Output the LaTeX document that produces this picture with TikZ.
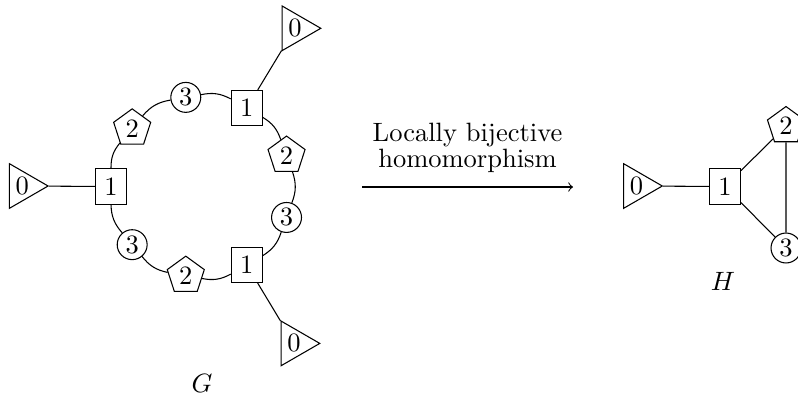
\documentclass[tikz,border=0pt]{standalone}
\usetikzlibrary{shapes.geometric}
\begin{document}
\begin{tikzpicture}[x=0.3774pt,y=0.3774pt,
  sq/.style={draw, rectangle},
  ci/.style={draw, circle, minimum size=11.3pt, inner sep=0pt},
  pe/.style={draw, regular polygon, regular polygon sides=5, minimum size=14.7pt, inner sep=0pt},
  tr/.style={draw, regular polygon, regular polygon sides=3, shape border rotate=-90, minimum size=18.9pt, inner sep=0pt},
  ring/.style={bend right=20}]
\useasboundingbox (0,0) rectangle (798,392);
\clip (0,0) rectangle (798,392);
% Graph G
\begin{scope}[shift={(201.5,205.5)}]
  \node[sq] (s1) at (180:90.5) {1};
  \node[ci] (c1) at (220:90.5) {3};
  \node[pe] (p1) at (260:90.5) {2};
  \node[sq] (s2) at (300:90.5) {1};
  \node[ci] (c2) at (340:90.5) {3};
  \node[pe] (p2) at (20:90.5) {2};
  \node[sq] (s3) at (60:90.5) {1};
  \node[ci] (c3) at (100:90.5) {3};
  \node[pe] (p3) at (140:90.5) {2};
\end{scope}
\node[tr] (t1) at (22.3,206) {0};
\node[tr] (t3) at (295,363.7) {0};
\node[tr] (t2) at (294,48.6) {0};
\draw (s1) to[ring] (c1);
\draw (c1) to[ring] (p1);
\draw (p1) to[ring] (s2);
\draw (s2) to[ring] (c2);
\draw (c2) to[ring] (p2);
\draw (p2) to[ring] (s3);
\draw (s3) to[ring] (c3);
\draw (c3) to[ring] (p3);
\draw (p3) to[ring] (s1);
\draw (t1) -- (s1);
\draw (s2) -- (t2);
\draw (s3) -- (t3);
\node (G) at (202,9) {$G$};
% Arrow
\coordinate (a1) at (362,205);
\coordinate (a2) at (573,205);
\draw[->] (a1) -- node[above=1.9pt, align=center] (lbl) {Locally bijective\\[-2.2pt]homomorphism} (a2);
% Graph H
\node[tr] (ht) at (636.5,206) {0};
\node[sq] (hs) at (725,205.5) {1};
\node[pe] (hp) at (786,266) {2};
\node[ci] (hc) at (786,144) {3};
\draw (ht) -- (hs);
\draw (hs) -- (hp);
\draw (hs) -- (hc);
\draw (hp) -- (hc);
\node (H) at (723,111) {$H$};
\end{tikzpicture}
\end{document}
